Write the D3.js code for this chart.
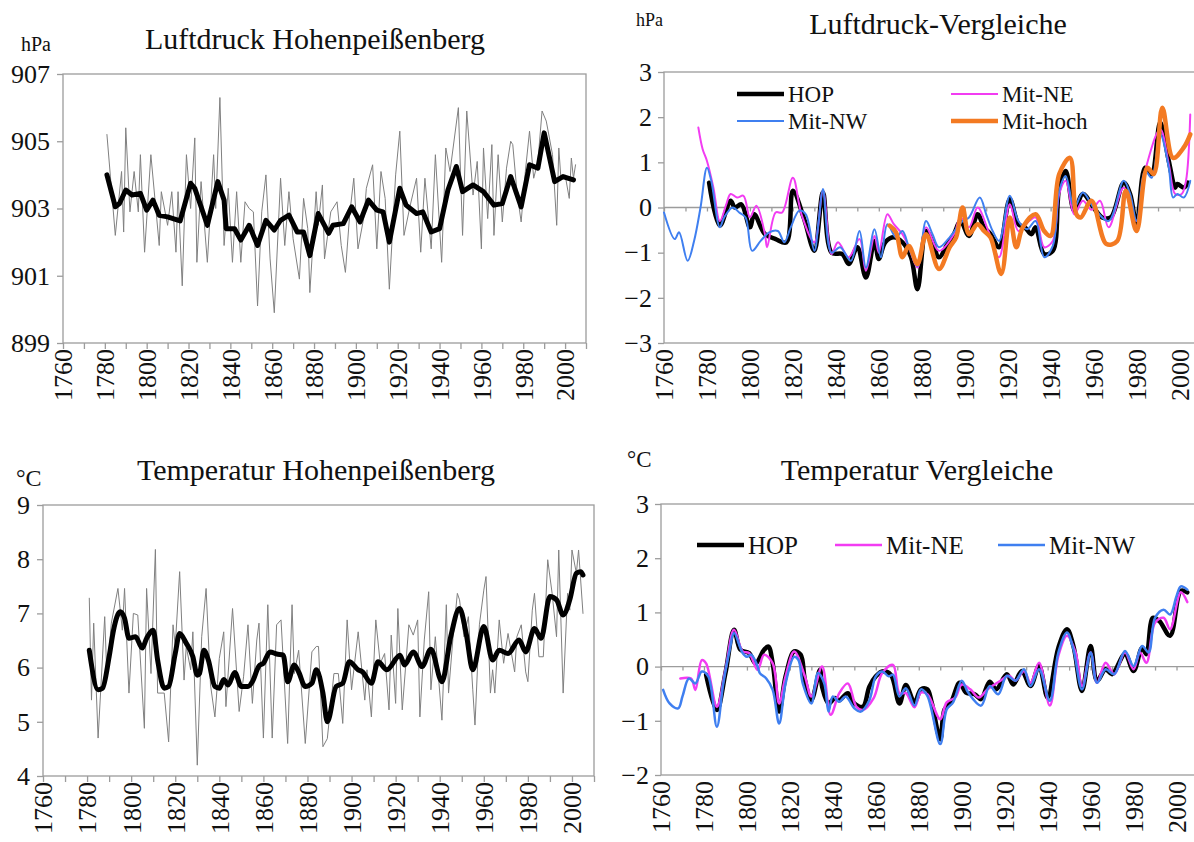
<!DOCTYPE html>
<html>
<head>
<meta charset="utf-8">
<script src="https://cdn.jsdelivr.net/npm/d3@7"></script>
<style>
body { margin: 0; background: #fff; }
text { font-family: "Liberation Serif", "Times New Roman", serif; fill: #111; }
</style>
</head>
<body>
<script>
//year labels on every x axis
var yearLabels = [1760, 1780, 1800, 1820, 1840, 1860, 1880, 1900, 1920, 1940, 1960, 1980, 2000];

//Luftdruck Hohenpeissenberg, annual values (hPa)
var presAnnual = [[1781,905.2],[1785,902.2],[1788,904.1],[1789,902.3],[1790,905.4],[1792,902.9],[1794,904.1],[1796,902.9],
  [1797,904.6],[1799,901.7],[1802,904.6],[1806,901.9],[1807,903.5],[1810,902.5],[1812,903.5],[1814,901.7],[1815,903.5],
  [1817,900.7],[1819,904.6],[1821,903.0],[1823,905.1],[1824,901.4],[1826,903.8],[1829,901.4],[1832,904.6],[1833,903.0],
  [1835,906.3],[1837,901.9],[1839,903.6],[1841,901.4],[1843,903.5],[1845,901.4],[1847,903.2],[1849,903.0],[1851,902.9],
  [1853,900.1],[1855,902.9],[1857,904.0],[1859,901.5],[1861,899.9],[1864,903.9],[1866,901.9],[1868,903.5],[1870,902.1],
  [1873,900.9],[1875,903.3],[1877,902.4],[1878,900.5],[1881,903.5],[1882,902.5],[1884,903.7],[1885,901.5],[1888,902.9],
  [1891,903.2],[1893,901.9],[1895,901.1],[1897,902.8],[1899,903.9],[1901,901.8],[1904,902.8],[1905,903.6],[1908,904.3],
  [1910,901.8],[1912,904.1],[1914,903.3],[1916,900.6],[1919,904.0],[1921,905.3],[1923,902.2],[1926,903.1],[1929,903.9],
  [1931,901.7],[1933,903.9],[1936,901.8],[1938,904.6],[1941,901.4],[1943,904.8],[1945,904.1],[1949,906.0],[1951,902.2],
  [1953,905.9],[1956,903.4],[1958,904.4],[1960,901.8],[1961,904.8],[1963,902.7],[1965,904.9],[1966,902.2],[1968,904.6],
  [1970,902.6],[1972,904.2],[1974,905.0],[1975,904.9],[1977,903.5],[1979,902.6],[1981,904.1],[1983,905.3],[1985,903.9],
  [1987,904.4],[1989,905.9],[1991,905.6],[1994,904.6],[1996,902.5],[1997,904.8],[1998,903.9],[2000,904.0],[2002,903.3],
  [2003,904.5],[2004,903.9],[2005,904.3]];

//Luftdruck Hohenpeissenberg, smoothed
var presSmooth = [[1781,904.0],[1785,903.05],[1787,903.15],[1790,903.55],[1793,903.4],[1797,903.45],[1800,902.95],
  [1803,903.25],[1806,902.8],[1810,902.75],[1816,902.63],[1821,903.75],[1823,903.6],[1826,903.05],[1829,902.5],
  [1834,903.8],[1837,903.25],[1838,902.4],[1842,902.4],[1845,902.06],[1849,902.5],[1853,901.9],[1857,902.65],
  [1861,902.36],[1864,902.65],[1868,902.8],[1872,902.3],[1875,902.3],[1878,901.6],[1882,902.85],[1887,902.26],
  [1889,902.5],[1894,902.55],[1898,903.05],[1902,902.6],[1906,903.25],[1910,902.95],[1913,902.9],[1916,902.0],
  [1921,903.6],[1924,903.1],[1929,902.85],[1932,902.9],[1936,902.3],[1940,902.4],[1944,903.55],[1948,904.25],
  [1951,903.5],[1956,903.7],[1961,903.5],[1966,903.1],[1970,903.15],[1974,903.95],[1979,903.05],[1983,904.3],
  [1987,904.2],[1990,905.25],[1995,903.8],[1999,903.95],[2004,903.85]];

//Luftdruck-Vergleiche (anomalies, hPa)
var presHOP = [[1781,0.55],[1786,-0.4],[1791,0.15],[1793,0.0],[1796,0.07],[1800,-0.44],[1802,-0.15],[1807,-0.59],
  [1812,-0.7],[1817,-0.77],[1820,0.37],[1825,-0.22],[1826,-0.37],[1830,-0.96],[1834,0.33],[1838,-1.0],[1843,-1.03],
  [1846,-1.25],[1850,-0.88],[1854,-1.55],[1858,-0.74],[1860,-1.14],[1863,-0.77],[1867,-0.66],[1871,-0.77],[1875,-1.1],
  [1878,-1.81],[1882,-0.52],[1885,-0.77],[1888,-1.1],[1892,-0.81],[1895,-0.59],[1898,-0.3],[1902,-0.63],[1906,-0.15],
  [1909,-0.44],[1912,-0.59],[1916,-0.88],[1921,0.18],[1925,-0.37],[1928,-0.44],[1931,-0.59],[1933,-0.44],[1937,-1.03],
  [1941,-0.96],[1944,0.44],[1947,0.81],[1951,-0.07],[1955,0.3],[1960,0.0],[1964,-0.22],[1968,-0.22],[1974,0.55],
  [1977,0.3],[1980,-0.37],[1984,0.88],[1987,0.74],[1991,1.88],[1995,1.03],[1998,0.44],[1999,0.52],[2002,0.44],[2004,0.55]];
var presNE = [[1776,1.77],[1778,1.29],[1780,1.03],[1783,0.44],[1786,-0.3],[1789,0.07],[1791,0.3],[1794,0.22],
  [1797,0.26],[1800,-0.22],[1803,0.04],[1807,-0.59],[1808,-0.88],[1812,-0.11],[1815,-0.11],[1820,0.66],[1824,-0.15],
  [1830,-0.77],[1834,0.37],[1838,-1.03],[1841,-0.77],[1846,-1.1],[1851,-0.7],[1854,-1.4],[1858,-0.63],[1860,-1.0],
  [1864,-0.15],[1867,-0.37],[1871,-0.59],[1874,-0.88],[1878,-1.33],[1882,-0.44],[1888,-0.96],[1895,-0.59],[1898,-0.22],
  [1902,-0.44],[1906,0.0],[1911,-0.52],[1916,-1.1],[1921,0.07],[1925,-0.52],[1930,-0.3],[1933,-0.22],[1937,-0.88],
  [1941,-0.74],[1944,0.3],[1947,0.59],[1951,-0.15],[1955,0.15],[1959,-0.05],[1963,0.15],[1967,-0.44],[1974,0.44],
  [1980,-0.3],[1984,0.81],[1991,1.73],[1995,0.96],[1998,0.3],[2001,0.3],[2003,0.59],[2005,2.06]];
var presNW = [[1760,-0.11],[1765,-0.7],[1767,-0.55],[1771,-1.18],[1774,-0.74],[1777,0.0],[1780,0.88],[1782,0.59],
  [1786,-0.44],[1788,-0.22],[1792,0.0],[1795,-0.11],[1798,-0.22],[1801,-0.96],[1805,-0.74],[1809,-0.55],[1813,-0.52],
  [1816,-0.77],[1819,-0.44],[1823,-0.07],[1826,-0.15],[1830,-0.96],[1832,-0.3],[1834,0.41],[1838,-1.0],[1842,-0.88],
  [1847,-1.18],[1851,-0.52],[1854,-1.33],[1858,-0.48],[1861,-1.1],[1864,-0.37],[1868,-0.66],[1871,-0.52],[1874,-0.88],
  [1878,-1.3],[1882,-0.3],[1885,-0.59],[1888,-0.88],[1893,-0.66],[1899,-0.3],[1902,-0.22],[1907,0.22],[1910,-0.15],
  [1913,-0.52],[1916,-0.74],[1921,0.26],[1925,-0.3],[1929,-0.48],[1933,-0.3],[1937,-1.1],[1941,-0.85],[1944,0.37],
  [1947,0.7],[1951,0.0],[1955,0.33],[1960,0.0],[1967,-0.3],[1974,0.59],[1977,0.3],[1980,-0.3],[1984,0.81],[1987,0.66],
  [1991,1.62],[1995,0.88],[1997,0.22],[1999,0.3],[2002,0.22],[2005,0.59]];
var presHoch = [[1865,-0.4],[1868,-0.55],[1871,-1.1],[1874,-0.85],[1878,-1.25],[1882,-0.59],[1888,-1.36],[1893,-0.88],
  [1896,-0.66],[1899,0.0],[1902,-0.59],[1906,-0.37],[1909,-0.52],[1912,-0.66],[1917,-1.47],[1921,-0.22],[1924,-0.88],
  [1927,-0.44],[1933,-0.15],[1937,-0.52],[1940,-0.63],[1944,0.74],[1949,1.1],[1952,-0.15],[1954,-0.22],[1959,0.15],
  [1966,-0.81],[1971,-0.74],[1975,0.37],[1980,-0.52],[1985,0.88],[1988,0.74],[1992,2.21],[1997,1.1],[2002,1.33],[2005,1.62]];

//Temperatur Hohenpeissenberg, annual values (degC)
var tempAnnual = [[1781,7.28],[1782,5.4],[1783,6.82],[1785,4.7],[1788,6.94],[1789,5.83],[1791,6.82],[1794,7.46],
  [1796,6.69],[1797,7.46],[1799,5.53],[1801,7.0],[1803,6.97],[1806,4.88],[1807,7.46],[1809,5.89],[1811,8.18],[1812,5.53],
  [1815,5.53],[1817,4.63],[1819,6.79],[1820,6.39],[1822,7.77],[1824,5.77],[1825,6.39],[1827,5.96],[1828,6.66],[1830,4.2],
  [1832,6.57],[1834,7.46],[1836,5.68],[1838,5.09],[1840,6.17],[1842,6.66],[1843,5.28],[1846,7.09],[1849,5.19],[1851,5.83],
  [1853,6.79],[1855,5.34],[1857,6.51],[1858,6.82],[1860,4.7],[1862,7.16],[1864,4.7],[1866,6.79],[1868,6.88],[1871,4.6],
  [1873,7.16],[1874,5.89],[1876,6.32],[1879,4.6],[1882,6.29],[1884,6.39],[1885,6.39],[1887,4.54],[1889,4.69],[1892,5.89],
  [1894,5.89],[1896,4.97],[1898,6.88],[1900,5.59],[1903,6.66],[1906,5.4],[1907,5.96],[1909,5.09],[1911,6.88],[1913,6.08],
  [1915,6.26],[1917,5.22],[1918,6.6],[1920,5.34],[1921,7.09],[1923,5.22],[1926,6.79],[1928,6.6],[1930,6.88],[1931,5.09],
  [1933,6.51],[1935,7.4],[1936,5.59],[1938,6.57],[1941,5.03],[1943,7.16],[1944,5.53],[1946,6.54],[1948,7.37],[1949,7.25],
  [1951,6.57],[1953,6.94],[1955,5.59],[1956,4.94],[1958,6.79],[1960,7.43],[1961,7.68],[1963,5.53],[1964,5.96],[1965,5.53],
  [1967,6.88],[1969,6.08],[1971,6.63],[1974,5.92],[1975,6.57],[1977,6.79],[1979,5.92],[1980,5.74],[1982,7.06],[1983,7.37],
  [1985,6.2],[1987,6.2],[1989,7.99],[1991,7.37],[1993,6.57],[1994,8.17],[1996,5.53],[1998,7.37],[1999,7.06],[2000,8.17],
  [2002,7.74],[2003,8.17],[2005,7.0]];

//Temperatur Hohenpeissenberg, smoothed
var tempSmooth = [[1781,6.32],[1785,5.59],[1787,5.62],[1790,6.2],[1792,6.69],[1795,7.03],[1797,6.91],[1799,6.54],
  [1802,6.57],[1805,6.36],[1807,6.54],[1810,6.69],[1812,6.14],[1815,5.62],[1817,5.65],[1820,6.26],[1822,6.63],[1825,6.45],
  [1828,6.2],[1830,5.86],[1831,5.89],[1833,6.32],[1835,6.14],[1838,5.65],[1840,5.62],[1842,5.78],[1844,5.68],[1847,5.91],
  [1850,5.65],[1853,5.65],[1855,5.74],[1858,6.03],[1860,6.08],[1863,6.29],[1866,6.25],[1869,6.23],[1871,5.74],[1874,6.05],
  [1876,5.92],[1879,5.65],[1882,5.71],[1884,5.96],[1887,5.53],[1889,5.0],[1893,5.65],[1896,5.71],[1899,6.11],[1903,5.96],
  [1905,5.92],[1909,5.71],[1912,6.11],[1916,5.96],[1922,6.23],[1924,6.05],[1928,6.29],[1932,6.02],[1936,6.34],[1941,5.74],
  [1945,6.57],[1949,7.09],[1952,6.63],[1955,5.96],[1960,6.76],[1964,6.14],[1967,6.32],[1971,6.26],[1976,6.51],[1979,6.29],
  [1983,6.72],[1986,6.54],[1990,7.31],[1993,7.25],[1996,6.97],[1999,7.25],[2002,7.74],[2004,7.77],[2005,7.71]];

//Temperatur Vergleiche (anomalies, degC)
var tempHOP = [[1781,-0.15],[1786,-0.8],[1790,-0.12],[1794,0.68],[1797,0.31],[1801,0.25],[1804,0.06],[1808,0.31],
  [1810,0.37],[1812,0.06],[1815,-0.83],[1818,-0.18],[1822,0.28],[1825,0.22],[1827,-0.25],[1830,-0.62],[1834,-0.06],
  [1835,-0.37],[1838,-0.68],[1841,-0.58],[1843,-0.62],[1847,-0.49],[1850,-0.68],[1854,-0.74],[1857,-0.37],[1860,-0.18],
  [1863,-0.09],[1867,-0.15],[1871,-0.68],[1874,-0.34],[1878,-0.66],[1881,-0.42],[1884,-0.42],[1886,-0.66],[1890,-1.34],
  [1892,-0.79],[1895,-0.66],[1899,-0.3],[1902,-0.48],[1906,-0.51],[1909,-0.6],[1913,-0.28],[1916,-0.42],[1921,-0.14],
  [1924,-0.33],[1928,-0.08],[1932,-0.36],[1936,0.01],[1940,-0.57],[1945,0.35],[1949,0.69],[1952,0.38],[1956,-0.45],
  [1960,0.38],[1963,-0.26],[1967,-0.05],[1970,-0.14],[1976,0.23],[1980,-0.08],[1984,0.35],[1986,0.23],[1989,0.9],
  [1992,0.84],[1997,0.57],[2002,1.4],[2005,1.37]];
var tempNE = [[1769,-0.22],[1774,-0.22],[1776,-0.43],[1779,0.12],[1781,0.06],[1786,-0.74],[1790,-0.06],[1794,0.68],
  [1798,0.28],[1801,0.25],[1805,-0.06],[1808,0.22],[1812,0.06],[1815,-0.68],[1818,-0.18],[1822,0.28],[1827,-0.18],
  [1830,-0.55],[1835,0.0],[1839,-0.89],[1843,-0.49],[1847,-0.31],[1851,-0.74],[1854,-0.8],[1859,-0.58],[1863,-0.12],
  [1868,0.03],[1871,-0.49],[1874,-0.49],[1878,-0.75],[1881,-0.48],[1884,-0.51],[1890,-0.97],[1893,-0.66],[1897,-0.57],
  [1900,-0.33],[1904,-0.42],[1908,-0.57],[1912,-0.42],[1918,-0.26],[1922,-0.17],[1925,-0.26],[1929,-0.08],[1932,-0.3],
  [1936,0.07],[1941,-0.72],[1945,0.2],[1949,0.57],[1953,0.26],[1956,-0.36],[1960,0.26],[1963,-0.3],[1967,0.07],
  [1971,-0.14],[1976,0.26],[1980,-0.05],[1983,0.26],[1986,0.07],[1990,0.81],[1994,0.9],[1997,0.69],[2002,1.37],[2005,1.19]];
var tempNW = [[1761,-0.43],[1764,-0.68],[1768,-0.77],[1770,-0.55],[1773,-0.22],[1776,-0.31],[1779,-0.09],[1782,-0.18],
  [1786,-1.11],[1789,-0.31],[1792,0.31],[1794,0.62],[1798,0.25],[1800,0.18],[1802,0.22],[1805,0.0],[1806,-0.12],
  [1809,-0.22],[1812,-0.43],[1815,-1.05],[1818,-0.31],[1822,0.18],[1824,0.12],[1826,-0.31],[1830,-0.68],[1833,-0.12],
  [1836,-0.31],[1838,-0.83],[1840,-0.55],[1843,-0.65],[1846,-0.55],[1850,-0.77],[1853,-0.83],[1857,-0.62],[1860,-0.18],
  [1863,-0.09],[1866,-0.18],[1868,-0.15],[1871,-0.55],[1874,-0.4],[1878,-0.72],[1881,-0.42],[1884,-0.54],[1890,-1.43],
  [1893,-0.79],[1896,-0.66],[1900,-0.26],[1903,-0.48],[1909,-0.72],[1913,-0.36],[1917,-0.51],[1921,-0.17],[1925,-0.26],
  [1929,-0.05],[1932,-0.36],[1936,-0.05],[1941,-0.63],[1945,0.26],[1949,0.63],[1952,0.32],[1956,-0.42],[1960,0.26],
  [1963,-0.3],[1967,-0.05],[1971,-0.14],[1976,0.29],[1980,0.01],[1984,0.38],[1987,0.26],[1990,0.9],[1994,1.05],
  [1997,0.96],[2000,1.3],[2002,1.48],[2005,1.42]];

var width = 1194,
    height = 842;

var serif = "'Liberation Serif', 'Times New Roman', serif";

var svg = d3.select("body")
    .append("svg")
    .attr("width", width)
    .attr("height", height)
    .style("font-family", serif);

var frameColor = "#9c9c9c";

//draw one panel: frame, axes, labels, lines
function drawPanel(cfg){
    var x = d3.scaleLinear().domain([1760, 2010]).range([cfg.left, cfg.right]);
    var y = d3.scaleLinear().domain(cfg.yDomain).range([cfg.bottom, cfg.top]);
    var g = svg.append("g");

    //plot frame
    g.append("rect")
        .attr("x", cfg.left)
        .attr("y", cfg.top)
        .attr("width", cfg.right - cfg.left)
        .attr("height", cfg.bottom - cfg.top)
        .attr("fill", "none")
        .attr("stroke", frameColor)
        .attr("stroke-width", 1.3);

    //y axis
    var yAxis = g.append("g")
        .attr("transform", "translate(" + cfg.left + ",0)")
        .call(d3.axisLeft(y).tickValues(cfg.yTicks).tickSize(6).tickPadding(cfg.yPad).tickFormat(d3.format("d")));
    yAxis.attr("font-family", null);
    yAxis.select(".domain").remove();
    yAxis.selectAll("line").attr("stroke", frameColor).attr("stroke-width", 1.3);
    yAxis.selectAll("text")
        .attr("font-size", 26)
        .attr("fill", "#111")
        .style("font-family", serif);

    //zero line for anomaly panels
    var tickBase = cfg.bottom;
    if (cfg.zeroLine) {
        tickBase = y(0);
        g.append("line")
            .attr("x1", cfg.left).attr("x2", cfg.right)
            .attr("y1", y(0)).attr("y2", y(0))
            .attr("stroke", frameColor)
            .attr("stroke-width", 1.3);
    }

    //x ticks every 10 years
    var xAxis = g.append("g")
        .attr("transform", "translate(0," + tickBase + ")")
        .call(d3.axisBottom(x).tickValues(d3.range(1760, 2011, 10)).tickSize(cfg.zeroLine ? 4 : 6).tickFormat(""));
    xAxis.select(".domain").remove();
    xAxis.selectAll("line").attr("stroke", frameColor).attr("stroke-width", 1.3);

    //rotated year labels
    g.selectAll(".yr")
        .data(yearLabels)
        .enter()
        .append("text")
        .attr("class", "yr")
        .attr("transform", function(d){
            return "translate(" + x(d) + "," + (cfg.bottom + 6) + ") rotate(-90)";
        })
        .attr("text-anchor", "end")
        .attr("dy", "0.36em")
        .attr("font-size", 26)
        .style("font-family", serif)
        .text(function(d){ return d; });

    //title and unit
    g.append("text")
        .attr("x", cfg.titleX).attr("y", cfg.titleY)
        .attr("text-anchor", "middle")
        .attr("font-size", 30)
        .style("font-family", serif)
        .text(cfg.title);
    g.append("text")
        .attr("x", cfg.unitX).attr("y", cfg.unitY)
        .attr("font-size", cfg.unitSize)
        .style("font-family", serif)
        .text(cfg.unit);

    //data lines
    cfg.series.forEach(function(s){
        var line = d3.line()
            .x(function(d){ return x(d[0]); })
            .y(function(d){ return y(d[1]); })
            .curve(s.curve || d3.curveLinear);
        g.append("path")
            .datum(s.data)
            .attr("fill", "none")
            .attr("stroke", s.color)
            .attr("stroke-width", s.width)
            .attr("stroke-linejoin", "round")
            .attr("stroke-linecap", "round")
            .attr("d", line);
    });

    //legend
    (cfg.legend || []).forEach(function(l){
        var s = cfg.series[l.idx];
        g.append("line")
            .attr("x1", l.x).attr("x2", l.x + 47)
            .attr("y1", l.y).attr("y2", l.y)
            .attr("stroke", s.color)
            .attr("stroke-width", s.width);
        g.append("text")
            .attr("x", l.x + 51).attr("y", l.y)
            .attr("dy", "0.35em")
            .attr("font-size", cfg.legendSize)
            .style("font-family", serif)
            .text(s.name);
    });
}

var blue = "#3f7ff0",
    magenta = "#f23cf2",
    orange = "#f37a22";

drawPanel({
    left: 63, right: 586, top: 74, bottom: 343, yPad: 7,
    yDomain: [899, 907], yTicks: [899, 901, 903, 905, 907],
    title: "Luftdruck Hohenpeißenberg", titleX: 315, titleY: 49,
    unit: "hPa", unitX: 21, unitY: 51, unitSize: 20,
    series: [
        {data: presAnnual, color: "#808080", width: 1},
        {data: presSmooth, color: "#000", width: 5}
    ]
});

drawPanel({
    left: 664, right: 1201, top: 72, bottom: 343, zeroLine: true, yPad: 6,
    yDomain: [-3, 3], yTicks: [-3, -2, -1, 0, 1, 2, 3],
    title: "Luftdruck-Vergleiche", titleX: 938, titleY: 34,
    unit: "hPa", unitX: 636, unitY: 26, unitSize: 18,
    legendSize: 23,
    series: [
        {name: "HOP", data: presHOP, color: "#000", width: 4.5, curve: d3.curveCatmullRom},
        {name: "Mit-NE", data: presNE, color: magenta, width: 2, curve: d3.curveCatmullRom},
        {name: "Mit-NW", data: presNW, color: blue, width: 2, curve: d3.curveCatmullRom},
        {name: "Mit-hoch", data: presHoch, color: orange, width: 4.5, curve: d3.curveCatmullRom}
    ],
    legend: [
        {idx: 0, x: 737, y: 94},
        {idx: 2, x: 737, y: 121},
        {idx: 1, x: 951, y: 94},
        {idx: 3, x: 951, y: 121}
    ]
});

drawPanel({
    left: 43, right: 594, top: 505, bottom: 776, yPad: 7,
    yDomain: [4, 9], yTicks: [4, 5, 6, 7, 8, 9],
    title: "Temperatur Hohenpeißenberg", titleX: 316, titleY: 480,
    unit: "°C", unitX: 16, unitY: 486, unitSize: 24,
    series: [
        {data: tempAnnual, color: "#808080", width: 1},
        {data: tempSmooth, color: "#000", width: 5, curve: d3.curveMonotoneX}
    ]
});

drawPanel({
    left: 661, right: 1198, top: 504, bottom: 775, zeroLine: true, yPad: 6,
    yDomain: [-2, 3], yTicks: [-2, -1, 0, 1, 2, 3],
    title: "Temperatur Vergleiche", titleX: 917, titleY: 480,
    unit: "°C", unitX: 627, unitY: 467, unitSize: 23,
    legendSize: 25,
    series: [
        {name: "HOP", data: tempHOP, color: "#000", width: 4.5, curve: d3.curveCatmullRom},
        {name: "Mit-NE", data: tempNE, color: magenta, width: 2.5, curve: d3.curveCatmullRom},
        {name: "Mit-NW", data: tempNW, color: blue, width: 2.5, curve: d3.curveCatmullRom}
    ],
    legend: [
        {idx: 0, x: 697, y: 545},
        {idx: 1, x: 835, y: 545},
        {idx: 2, x: 998, y: 545}
    ]
});
</script>
</body>
</html>
